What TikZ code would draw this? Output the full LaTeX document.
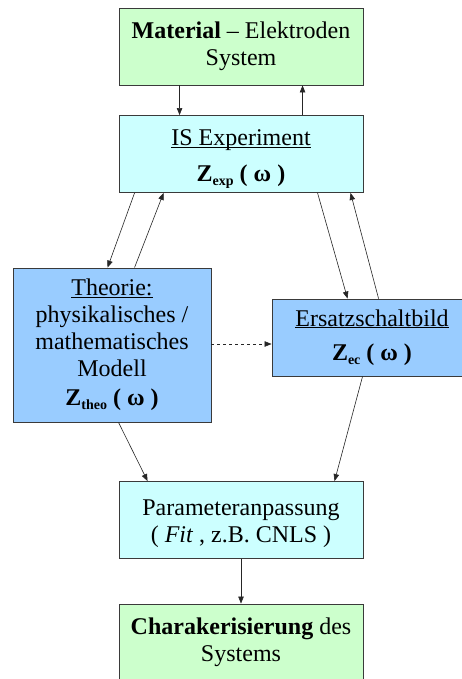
\documentclass[tikz,border=0pt]{standalone}
\usepackage{fontspec}
\setmainfont{Liberation Serif}
\usetikzlibrary{arrows.meta,calc}
\definecolor{boxgreen}{HTML}{CCFFCC}
\definecolor{boxcyan}{HTML}{CCFFFF}
\definecolor{boxblue}{HTML}{99CCFF}
\definecolor{edge}{HTML}{3A3A3A}
\newcommand\myul[1]{\setbox0\hbox{#1}\rlap{\rule[-2pt]{\wd0}{0.8pt}}\box0}
\newcommand\mysub[1]{\raisebox{-4pt}{\fontsize{14}{14}\selectfont\bfseries #1}}
\tikzset{
  box/.style={draw=edge, line width=0.9pt, inner sep=0pt, align=center,
    minimum height=77pt, font=\fontsize{24}{27}\selectfont},
  widebox/.style={box, minimum width=244pt},
  arr/.style={-{Triangle[length=7pt,width=5.5pt]}, line width=0.6pt, draw=black!85},
}
\begin{document}
\begin{tikzpicture}[x=1pt,y=-1pt]
\useasboundingbox (0,0) rectangle (462,679);
\fill[white] (0,0) rectangle (462,679);
\clip (0,0) rectangle (462,679);
\node[widebox, fill=boxgreen] (b1) at (241,46.5) {\textbf{Material} – Elektroden\\System};
\node[widebox, fill=boxcyan] (b2) at (241,154) {\rule{0pt}{26pt}\myul{IS Experiment}\\[9pt]\textbf{Z}\mysub{exp}\textbf{ ( ω )}};
\node[box, fill=boxblue, minimum width=198pt, minimum height=154pt] (b3) at (112,345)
  {\myul{Theorie:}\\physikalisches /\\mathematisches\\Modell\\[2pt]\textbf{Z}\mysub{theo}\textbf{ ( ω )}};
\node[box, fill=boxblue, minimum width=200pt] (b4) at (372,337.5)
  {\myul{Ersatzschaltbild}\\[7pt]\textbf{Z}\mysub{ec}\textbf{ ( ω )}};
\node[widebox, fill=boxcyan] (b5) at (241,520) {\rule{0pt}{23pt}Parameteranpassung\\( \textit{Fit} , z.B. CNLS )};
\node[widebox, fill=boxgreen] (b6) at (241,642.5) {\textbf{Charakerisierung} des\\Systems};
% connectors
\draw[arr] ([xshift=61pt]b1.south west) -- ([xshift=61pt]b2.north west);
\draw[arr] ([xshift=184pt]b2.north west) -- ([xshift=184pt]b1.south west);
\draw[arr] ([xshift=16pt]b2.south west) -- ([xshift=95pt]b3.north west);
\draw[arr] ([xshift=122pt]b3.north west) -- ([xshift=45pt]b2.south west);
\draw[arr] ([xshift=199pt]b2.south west) -- ([xshift=76pt]b4.north west);
\draw[arr] ([xshift=107pt]b4.north west) -- ([xshift=232pt]b2.south west);
\draw[arr, dashed] ([yshift=1pt]b3.east) -- ([yshift=1pt]b3.east -| b4.west);
\draw[arr] ([xshift=106pt]b3.south west) -- ([xshift=29pt]b5.north west);
\draw[arr] ([xshift=91pt]b4.south west) -- ([xshift=216pt]b5.north west);
\draw[arr] (b5.south) -- (b6.north);
\end{tikzpicture}
\end{document}
